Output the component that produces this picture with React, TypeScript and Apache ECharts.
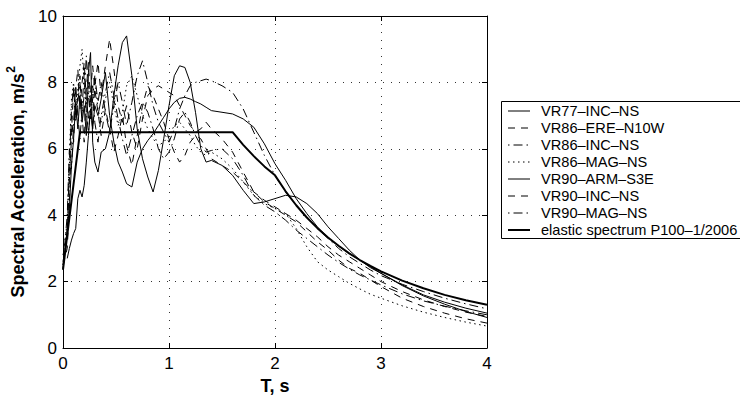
import React, { useEffect, useRef } from "react";
import * as echarts from "echarts";

// ---- data ----
const periods = [
  0, 0.04, 0.06, 0.08, 0.1, 0.12, 0.14, 0.16, 0.18, 0.2,
  0.22, 0.24, 0.26, 0.28, 0.3, 0.33, 0.36, 0.4, 0.44, 0.48,
  0.52, 0.56, 0.6, 0.65, 0.7, 0.75, 0.8, 0.85, 0.9, 0.95,
  1.0, 1.05, 1.1, 1.15, 1.2, 1.25, 1.3, 1.35, 1.4, 1.5,
  1.6, 1.7, 1.8, 1.9, 2.0, 2.1, 2.2, 2.3, 2.4, 2.5,
  2.6, 2.7, 2.8, 2.9, 3.0, 3.2, 3.4, 3.6, 3.8, 4.0,
];

const vr77IncNs = [
  2.35, 3.6, 4.2, 5.5, 6.3, 7.4, 6.6, 7.6, 6.8, 7.3,
  6.4, 8.3, 8.9, 6.2, 5.6, 5.3, 5.9, 6.0, 6.5, 7.6,
  8.5, 9.2, 9.4, 8.2, 6.6, 5.7, 5.15, 4.7, 5.35, 6.3,
  7.3, 8.2, 8.5, 8.45, 8.0, 7.1, 6.0, 5.6, 5.65, 5.5,
  5.2, 4.75, 4.35, 4.4, 4.5, 4.6, 4.55, 4.35, 4.05, 3.65,
  3.3, 2.95, 2.65, 2.42, 2.25, 1.9, 1.6, 1.38, 1.2, 1.05,
];

const vr86EreN10W = [
  2.5, 3.0, 4.3, 6.5, 7.8, 6.9, 7.6, 8.2, 7.0, 6.2,
  7.8, 8.6, 7.4, 6.6, 7.9, 8.6, 7.6, 8.5, 9.3, 8.4,
  7.3, 6.8, 7.3, 6.5, 6.0, 6.9, 7.6, 7.8, 7.9, 7.8,
  7.7, 7.6, 7.3, 7.0, 6.7, 6.5, 6.6, 6.8, 6.6, 6.3,
  5.9, 5.3, 4.7, 4.4, 4.2, 4.0, 3.8, 3.5, 3.2, 2.95,
  2.65, 2.4, 2.25, 2.05, 1.85, 1.5, 1.25, 1.05, 0.88, 0.75,
];

const vr86IncNs = [
  2.4, 3.5, 5.5, 7.2, 7.9, 6.8, 7.4, 8.0, 7.1, 7.6,
  8.8, 7.6, 6.9, 7.5, 8.2, 7.4, 8.0, 7.1, 6.5, 7.3,
  8.0, 7.4, 6.7, 7.4, 8.2, 8.65, 8.0, 7.3, 6.8, 6.5,
  6.2, 6.6, 7.2, 7.6, 7.9, 8.0, 8.05, 8.1, 8.05, 7.9,
  7.7, 7.2, 6.5, 5.8, 5.2, 4.7, 4.3, 3.95, 3.6, 3.3,
  3.0, 2.75, 2.55, 2.35, 2.18, 1.92, 1.7, 1.5, 1.33, 1.18,
];

const vr86MagNs = [
  2.8, 3.8, 5.8, 7.5, 8.0, 7.1, 7.8, 8.5, 9.0, 7.9,
  7.3, 8.0, 7.0, 7.6, 8.1, 7.2, 6.8, 7.5, 8.0, 7.3,
  6.7, 7.1, 7.9, 8.2, 7.6, 7.0, 6.6, 6.3, 6.1, 6.2,
  6.4, 6.7, 6.8, 6.6, 6.4, 6.1, 5.9, 5.8, 5.9, 5.7,
  5.4, 5.0, 4.6, 4.35, 4.2, 4.05, 3.6, 3.05, 2.6, 2.35,
  2.15, 1.95, 1.78, 1.62, 1.5, 1.27, 1.08, 0.92, 0.78, 0.66,
];

const vr90ArmS3E = [
  null, 2.7, 3.0, 3.25, 3.45, 3.6, 4.5, 4.75, 4.55, 4.9,
  5.6, 6.4, 7.2, 6.6, 7.3, 7.0, 7.5, 8.3, 7.0, 6.2,
  5.6, 5.3, 4.95, 4.85, 5.6, 6.0, 6.25, 6.45, 6.7, 6.95,
  7.2, 7.4, 7.52, 7.55, 7.5, 7.42, 7.35, 7.25, 7.15, 7.1,
  7.05, 6.9, 6.65, 6.15, 5.55, 5.05, 4.5, 4.05, 3.65, 3.33,
  3.07, 2.85, 2.65, 2.45, 2.25, 1.88, 1.57, 1.32, 1.1, 0.92,
];

const vr90IncNs = [
  2.6, 3.4, 5.0, 7.0, 6.2, 7.8, 8.4, 7.2, 8.0, 8.6,
  7.5, 6.9, 7.7, 8.5, 7.8, 7.1, 6.4, 7.2, 6.6, 5.9,
  6.4, 7.0, 6.1, 5.5, 6.4, 7.3, 7.9, 7.6, 7.2, 6.8,
  6.3, 5.9, 5.6, 5.8, 6.2, 6.4, 6.3, 6.0, 5.7, 5.5,
  5.3, 5.0, 4.7, 4.45, 4.25, 4.05, 3.85, 3.6, 3.35, 3.05,
  2.8, 2.6, 2.4, 2.2, 2.0, 1.7, 1.45, 1.25, 1.08, 0.95,
];

const vr90MagNs = [
  2.5, 4.0, 6.0, 5.4, 6.8, 7.9, 7.0, 6.3, 7.2, 8.3,
  7.1, 6.5, 7.3, 7.9, 6.8, 6.2, 7.0, 7.7, 8.3, 7.6,
  6.9, 6.3, 5.8, 6.4, 7.0, 7.4, 7.1, 6.6, 6.0, 5.7,
  5.9, 6.3, 6.9, 7.1, 6.8, 6.4, 6.1, 5.9, 5.95, 6.0,
  5.7, 5.2, 4.6, 4.3, 4.1, 3.85, 3.55, 3.3, 3.05, 2.8,
  2.58, 2.38, 2.2, 2.05, 1.9, 1.63, 1.42, 1.26, 1.12, 1.0,
];

const elasticPeriods = [0, 0.16, 1.6, 1.7, 1.8, 1.9, 2.0, 2.1, 2.2, 2.3, 2.4, 2.5, 2.6, 2.7, 2.8, 2.9, 3.0, 3.2, 3.4, 3.6, 3.8, 4.0];
const elasticValues = [2.36, 6.5, 6.5, 6.12, 5.78, 5.47, 5.2, 4.72, 4.3, 3.93, 3.61, 3.33, 3.08, 2.85, 2.65, 2.47, 2.31, 2.03, 1.8, 1.6, 1.44, 1.3];

const seriesNames = [
  "VR77–INC–NS",
  "VR86–ERE–N10W",
  "VR86–INC–NS",
  "VR86–MAG–NS",
  "VR90–ARM–S3E",
  "VR90–INC–NS",
  "VR90–MAG–NS",
  "elastic spectrum P100–1/2006",
];

const xTicks = [0, 1, 2, 3, 4];
const yTicks = [0, 2, 4, 6, 8, 10];

// ---- styles ----
const FONT = "'Liberation Sans', Arial, Helvetica, sans-serif";
const DASHED = [7, 6];
const DASHDOT = [9, 4, 1.5, 4];
const DOTTED = [1.5, 3.5];

type Style = { dash: number[] | "solid"; width: number; offset?: number };
const styles: Style[] = [
  { dash: "solid", width: 1 },
  { dash: DASHED, width: 1 },
  { dash: DASHDOT, width: 1, offset: 13 },
  { dash: DOTTED, width: 1 },
  { dash: "solid", width: 1 },
  { dash: DASHED, width: 1 },
  { dash: DASHDOT, width: 1, offset: 13 },
  { dash: "solid", width: 2 },
];

const recordValues = [vr77IncNs, vr86EreN10W, vr86IncNs, vr86MagNs, vr90ArmS3E, vr90IncNs, vr90MagNs];

function buildOption() {
  const series: any[] = recordValues.map((vals, i) => ({
    name: seriesNames[i],
    type: "line",
    symbol: "none",
    showSymbol: false,
    silent: true,
    data: periods.map((t, k) => [t, vals[k]]),
    lineStyle: { color: "#000", width: styles[i].width, type: styles[i].dash },
    z: 3,
  }));
  series.push({
    name: seriesNames[7],
    type: "line",
    symbol: "none",
    showSymbol: false,
    silent: true,
    data: elasticPeriods.map((t, k) => [t, elasticValues[k]]),
    lineStyle: { color: "#000", width: 2, type: "solid" },
    z: 4,
  });

  // legend drawn as graphic elements
  const lx = 501.5;
  const ly = 101.5;
  const rowH = 17;
  const graphic: any[] = [
    {
      type: "rect",
      shape: { x: lx, y: ly, width: 240, height: 137 },
      style: { fill: "#fff", stroke: "#000", lineWidth: 1 },
      z: 10,
    },
  ];
  seriesNames.forEach((name, i) => {
    const y = 111 + i * rowH;
    const st = styles[i];
    graphic.push({
      type: "line",
      shape: { x1: 508, y1: y, x2: 530, y2: y },
      style: {
        stroke: "#000",
        lineWidth: st.width,
        lineDash: st.dash === "solid" ? null : st.dash,
        lineDashOffset: st.offset || 0,
      },
      z: 11,
    });
    graphic.push({
      type: "text",
      x: 541,
      y: y,
      style: {
        text: name,
        fontSize: 14.6,
        fontFamily: FONT,
        fill: "#000",
        verticalAlign: "middle",
        align: "left",
      },
      z: 11,
    });
  });

  const axisLineStyle = { color: "#000", width: 1 };
  const gridLine = { show: true, lineStyle: { color: "#333", width: 1, type: [1, 7] } };

  return {
    animation: false,
    backgroundColor: "#fff",
    grid: { left: 63, top: 16, width: 424, height: 332, containLabel: false, outerBoundsMode: "none" },
    xAxis: [
      {
        type: "value",
        min: xTicks[0],
        max: xTicks[xTicks.length - 1],
        interval: 1,
        position: "bottom",
        axisLine: { show: true, lineStyle: axisLineStyle, onZero: false },
        axisTick: { show: true, inside: true, length: 5, lineStyle: axisLineStyle },
        axisLabel: { show: true, fontSize: 17, fontFamily: FONT, color: "#000", margin: 7 },
        splitLine: gridLine,
        name: "T, s",
        nameLocation: "middle",
        nameGap: 29,
        nameTextStyle: { fontSize: 18, fontWeight: "bold", fontFamily: FONT, color: "#000" },
      },
      {
        type: "value",
        min: xTicks[0],
        max: xTicks[xTicks.length - 1],
        interval: 1,
        position: "top",
        axisLine: { show: true, lineStyle: axisLineStyle, onZero: false },
        axisTick: { show: true, inside: true, length: 5, lineStyle: axisLineStyle },
        axisLabel: { show: false },
        splitLine: { show: false },
      },
    ],
    yAxis: [
      {
        type: "value",
        min: yTicks[0],
        max: yTicks[yTicks.length - 1],
        interval: 2,
        position: "left",
        axisLine: { show: true, lineStyle: axisLineStyle, onZero: false },
        axisTick: { show: true, inside: true, length: 5, lineStyle: axisLineStyle },
        axisLabel: { show: true, fontSize: 17, fontFamily: FONT, color: "#000", margin: 6 },
        splitLine: gridLine,
        name: "{t|Spectral Acceleration, m/s}{s|2}",
        nameLocation: "middle",
        nameGap: 24,
        nameTextStyle: {
          rich: {
            t: { fontSize: 18, fontWeight: "bold", fontFamily: FONT, color: "#000", lineHeight: 26 },
            s: { fontSize: 12, fontWeight: "bold", fontFamily: FONT, color: "#000", lineHeight: 14, verticalAlign: "top" },
          },
        },
      },
      {
        type: "value",
        min: yTicks[0],
        max: yTicks[yTicks.length - 1],
        interval: 2,
        position: "right",
        axisLine: { show: true, lineStyle: axisLineStyle, onZero: false },
        axisTick: { show: true, inside: true, length: 5, lineStyle: axisLineStyle },
        axisLabel: { show: false },
        splitLine: { show: false },
      },
    ],
    series,
    graphic,
  };
}

export default function App() {
  const ref = useRef<HTMLDivElement>(null);
  useEffect(() => {
    if (!ref.current) return;
    const chart = echarts.init(ref.current, null, { renderer: "svg" });
    chart.setOption(buildOption() as any);
    return () => {
      chart.dispose();
    };
  }, []);
  return (
    <div
      ref={ref}
      style={{ position: "fixed", left: 0, top: 0, width: 740, height: 399, background: "#fff" }}
    />
  );
}
